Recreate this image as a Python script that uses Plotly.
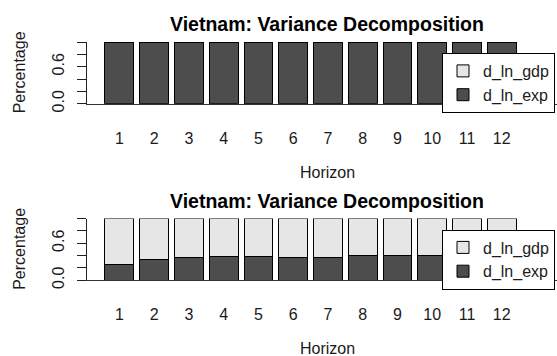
import plotly.graph_objects as go

horizons = ["1", "2", "3", "4", "5", "6", "7", "8", "9", "10", "11", "12"]
# Panel 1 (response: d_ln_exp)
p1_exp = [1.0, 1.0, 1.0, 1.0, 1.0, 1.0, 1.0, 1.0, 1.0, 1.0, 1.0, 1.0]
p1_gdp = [0.0, 0.0, 0.0, 0.0, 0.0, 0.0, 0.0, 0.0, 0.0, 0.0, 0.0, 0.0]
# Panel 2 (response: d_ln_gdp)
p2_exp = [0.247, 0.328, 0.361, 0.382, 0.382, 0.372, 0.372, 0.393, 0.393, 0.393, 0.393, 0.393]
p2_gdp = [0.753, 0.672, 0.639, 0.618, 0.618, 0.628, 0.628, 0.607, 0.607, 0.607, 0.607, 0.607]

title_text = "Vietnam: Variance Decomposition"
xlab = "Horizon"
ylab = "Percentage"
ytick_vals = [0.0, 0.2, 0.4, 0.6, 0.8, 1.0]
ytick_text = ["0.0", "", "", "0.6", "", ""]

FONT = "Liberation Sans, Arial, sans-serif"
DARK = "#4D4D4D"
LIGHT = "#E6E6E6"
TXT = "#1a1a1a"
W, H = 557, 356
OFF = 176.5  # vertical offset of second panel in px

def py(p):
    return 1 - p / H

fig = go.Figure()
for k, (exp, gdp) in enumerate([(p1_exp, p1_gdp), (p2_exp, p2_gdp)]):
    xa = "x" if k == 0 else "x2"
    ya = "y" if k == 0 else "y2"
    lg = "legend" if k == 0 else "legend2"
    fig.add_trace(go.Bar(x=horizons, y=exp, name="d_ln_exp", marker=dict(color=DARK, line=dict(color="black", width=1)),
                         xaxis=xa, yaxis=ya, legend=lg, cliponaxis=False))
    fig.add_trace(go.Bar(x=horizons, y=gdp, name="d_ln_gdp", marker=dict(color=LIGHT, line=dict(color="black", width=1)),
                         xaxis=xa, yaxis=ya, legend=lg, cliponaxis=False))

xdom = [86.7 / W, 1.0]
xr = [-0.943, 12.59]
common_x = dict(type="category", range=xr, domain=xdom, showline=True, linecolor="#333", linewidth=1,
                ticks="", showgrid=False, zeroline=False, tickfont=dict(family=FONT, size=16, color=TXT),
                ticklabelstandoff=20, fixedrange=True, automargin=False)
common_y = dict(range=[0, 1], showline=True, linecolor="#222", linewidth=1, ticks="outside", ticklen=9,
                tickcolor="#222", tickwidth=1, tickvals=ytick_vals, ticktext=ytick_text, tickangle=-90,
                tickfont=dict(family=FONT, size=16, color=TXT), showgrid=False, zeroline=False,
                ticklabelstandoff=6, fixedrange=True, automargin=False)

layout = dict(width=W, height=H, margin=dict(l=0, r=0, t=0, b=0, autoexpand=False),
              paper_bgcolor="white", plot_bgcolor="white",
              barmode="stack", bargap=0.1667, font=dict(family=FONT, size=16, color=TXT))
layout["xaxis"] = dict(common_x, anchor="y")
layout["xaxis2"] = dict(common_x, anchor="y2")
layout["yaxis"] = dict(common_y, anchor="x", domain=[py(103.7), py(42)])
layout["yaxis2"] = dict(common_y, anchor="x2", domain=[py(103.7 + OFF), py(42 + OFF)])

leg = dict(xanchor="left", yanchor="top", bgcolor="white", bordercolor="black", borderwidth=1,
           font=dict(family=FONT, size=16, color=TXT), traceorder="reversed",
           entrywidth=140, entrywidthmode="pixels")
layout["legend"] = dict(leg, x=442 / W, y=py(53))
layout["legend2"] = dict(leg, x=442 / W, y=py(53 + OFF))

annos = []
for k in range(2):
    o = OFF * k
    annos.append(dict(text="<b>" + title_text + "</b>", x=327 / W, y=py(24 + o), xref="paper", yref="paper",
                      xanchor="center", yanchor="middle", showarrow=False, font=dict(family=FONT, size=19.5, color="black")))
    annos.append(dict(text=xlab, x=327 / W, y=py(172 + o), xref="paper", yref="paper",
                      xanchor="center", yanchor="middle", showarrow=False, font=dict(family=FONT, size=16, color=TXT)))
    annos.append(dict(text=ylab, x=19.5 / W, y=py(72.8 + o), xref="paper", yref="paper", textangle=-90,
                      xanchor="center", yanchor="middle", showarrow=False, font=dict(family=FONT, size=16, color=TXT)))
layout["annotations"] = annos

fig.update_layout(**layout)
fig.write_html("out.html", config={"displayModeBar": False, "staticPlot": True},
               post_script="document.body.style.margin='0';document.body.style.overflow='hidden';")
